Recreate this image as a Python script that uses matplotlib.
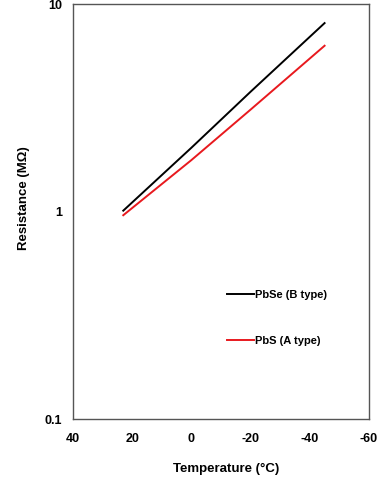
import numpy as np
import matplotlib
matplotlib.use('Agg')
import matplotlib.pyplot as plt

plt.rcParams['font.family'] = ['Liberation Sans', 'DejaVu Sans']
plt.rcParams['font.weight'] = 'bold'

# Data
temp_c = [23, 0, -20, -45]
pbse_b = [1.01, 2.03, 3.78, 8.1]
pbs_a = [0.96, 1.77, 3.1, 6.3]

x_ticks = [40, 20, 0, -20, -40, -60]
y_ticks = [0.1, 1, 10]
y_tick_labels = ['0.1', '1', '10']

fig = plt.figure(figsize=(3.88, 4.83), dpi=100)
ax = fig.add_axes([0.188, 0.1325, 0.763, 0.859])

ax.plot(temp_c, pbse_b, color='black', linewidth=1.4, label='PbSe (B type)')
ax.plot(temp_c, pbs_a, color='#e8191e', linewidth=1.4, label='PbS (A type)')

ax.set_yscale('log')
ax.set_xlim(40, -60)
ax.set_ylim(0.1, 10)
ax.set_xticks(x_ticks)
ax.set_xticklabels([str(t) for t in x_ticks])
ax.set_yticks(y_ticks)
ax.set_yticklabels(y_tick_labels)
ax.minorticks_off()
ax.tick_params(axis='x', length=0, pad=10, labelsize=9)
ax.tick_params(axis='y', length=0, pad=8, labelsize=9)

for sp in ax.spines.values():
    sp.set_color('#555555')
    sp.set_linewidth(1.0)

ax.set_xlabel('Temperature (°C)', fontsize=9.5, fontweight='bold')
ax.set_ylabel('Resistance (MΩ)', fontsize=9.5, fontweight='bold')
ax.xaxis.set_label_coords(0.517, -0.106)
ax.yaxis.set_label_coords(-0.145, 0.533)

ax.legend(loc='upper left', bbox_to_anchor=(0.52, 0.31), frameon=False,
          fontsize=8, handlelength=2.4, handletextpad=0.1,
          labelspacing=3.2, borderpad=0, borderaxespad=0)

fig.savefig('out.png', dpi=100)
